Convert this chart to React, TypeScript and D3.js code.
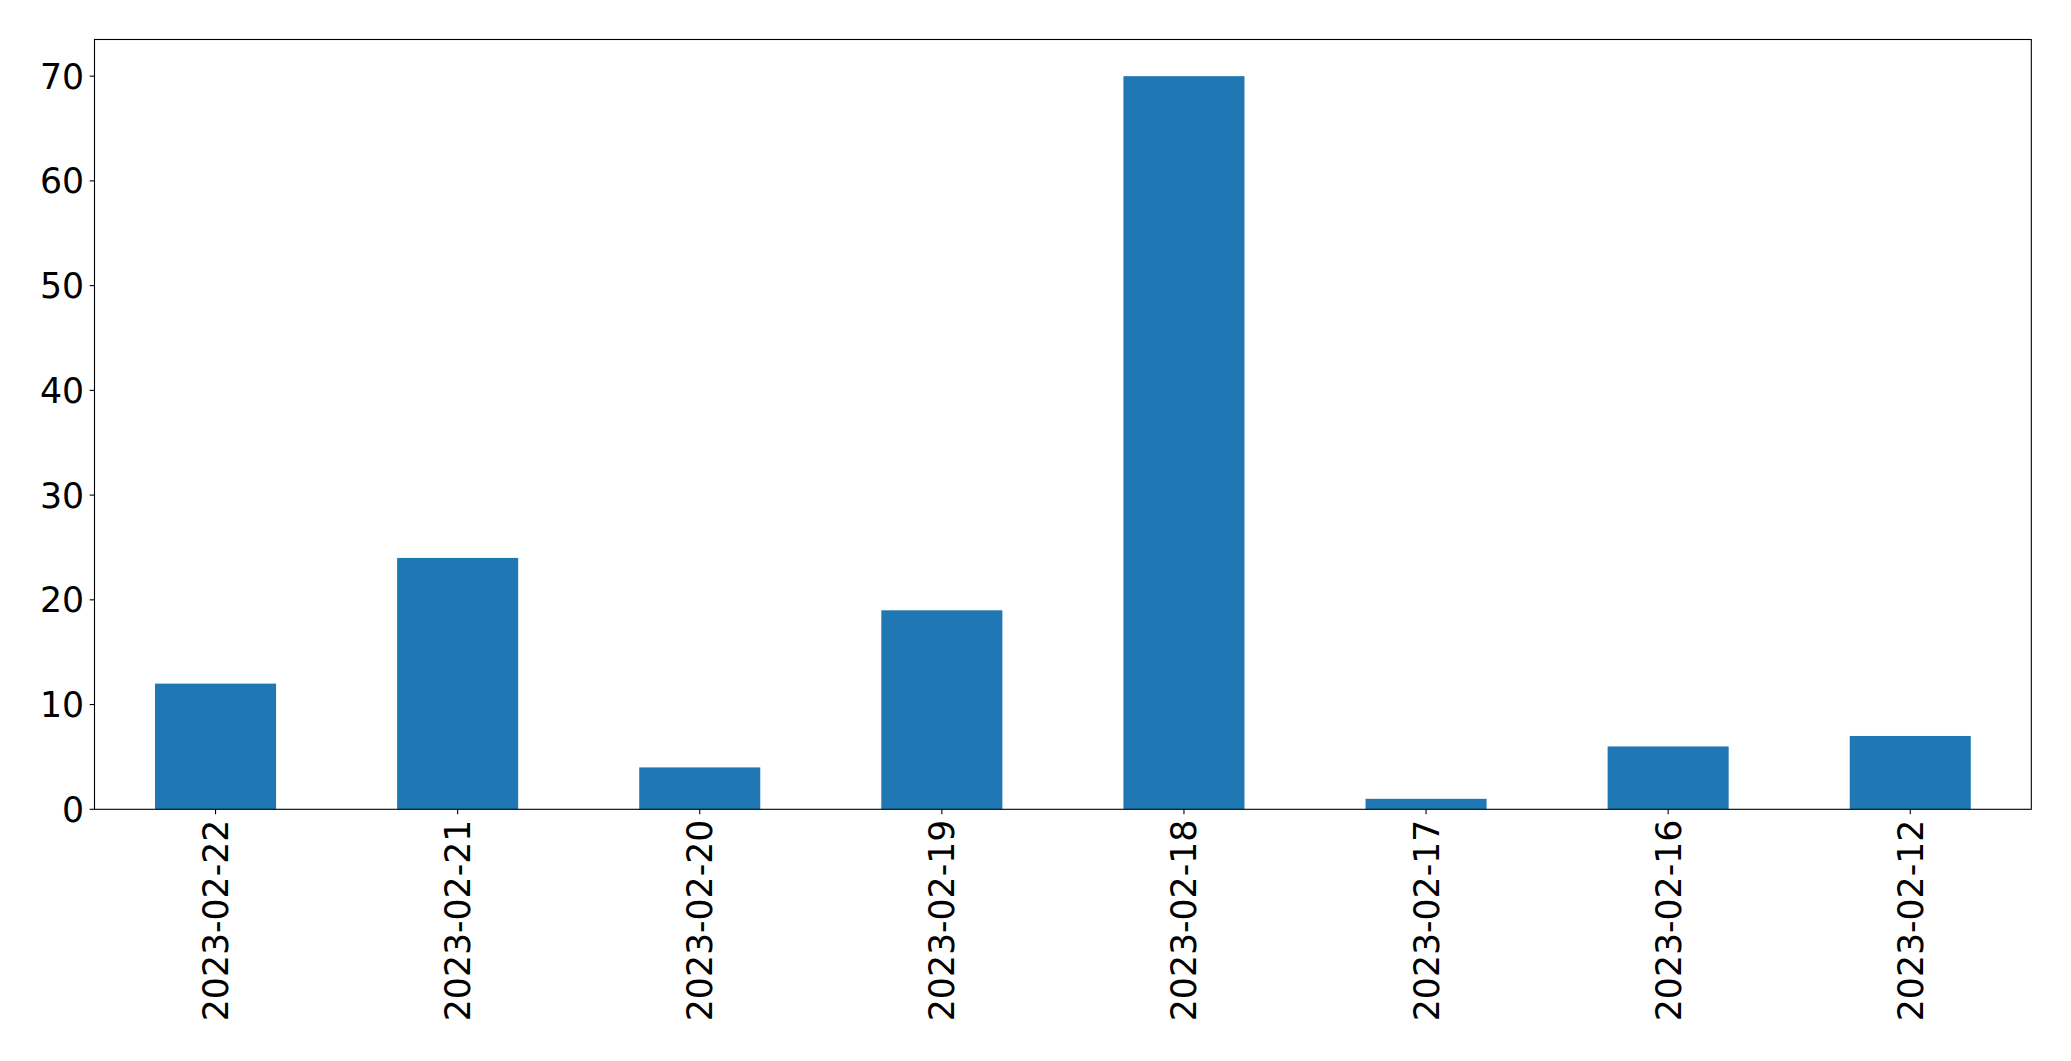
import React from "react";
import * as d3 from "d3";

const categories = ["2023-02-22", "2023-02-21", "2023-02-20", "2023-02-19", "2023-02-18", "2023-02-17", "2023-02-16", "2023-02-12"];
const values = [12, 24, 4, 19, 70, 1, 6, 7];
const yTicks = [0, 10, 20, 30, 40, 50, 60, 70];

const W = 2071;
const H = 1061;
const margin = { left: 94.5, top: 39.5, right: 2071 - 2031.3, bottom: 1061 - 809.3 };
const FONT = "DejaVu Sans, sans-serif";
const FS = 34.7;
const TICK = 4.86;
const PAD = 5.5;

export default function App() {
  const x0 = margin.left;
  const x1 = W - margin.right;
  const y0 = H - margin.bottom;
  const y1 = margin.top;
  const ymax = d3.max(values)! * 1.05;
  const y = d3.scaleLinear().domain([0, ymax]).range([y0, y1]);
  const x = d3.scaleLinear().domain([-0.5, categories.length - 0.5]).range([x0, x1]);
  const bw = 0.5;

  return (
    <svg width={W} height={H} style={{ position: "absolute", left: 0, top: 0, background: "#fff" }}>
      <rect x={0} y={0} width={W} height={H} fill="#fff" />
      {values.map((v, i) => (
        <rect
          key={categories[i]}
          x={x(i - bw / 2)}
          y={y(v)}
          width={x(i + bw / 2) - x(i - bw / 2)}
          height={y(0) - y(v)}
          fill="#1f77b4"
        />
      ))}
      <rect x={x0} y={y1} width={x1 - x0} height={y0 - y1} fill="none" stroke="#000" strokeWidth={1.1} />
      {yTicks.map((t) => (
        <g key={t}>
          <line x1={x0 - TICK} x2={x0} y1={y(t)} y2={y(t)} stroke="#000" strokeWidth={1.1} />
          <text
            x={x0 - TICK - PAD}
            y={y(t)}
            dy="0.36em"
            textAnchor="end"
            fontFamily={FONT}
            fontSize={FS}
            fill="#000"
          >
            {t}
          </text>
        </g>
      ))}
      {categories.map((c, i) => (
        <g key={c}>
          <line x1={x(i)} x2={x(i)} y1={y0} y2={y0 + TICK} stroke="#000" strokeWidth={1.1} />
          <text
            transform={`translate(${x(i)},${y0 + TICK + PAD}) rotate(-90)`}
            dy="0.36em"
            textAnchor="end"
            fontFamily={FONT}
            fontSize={FS}
            fill="#000"
          >
            {c}
          </text>
        </g>
      ))}
    </svg>
  );
}
